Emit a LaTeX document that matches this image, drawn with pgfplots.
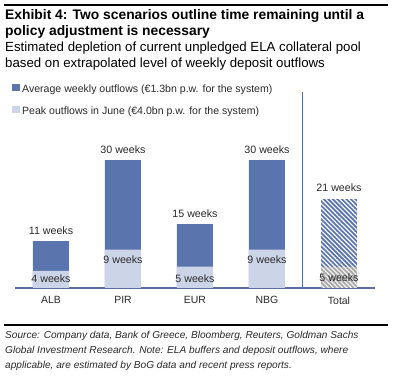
\documentclass[border=0pt]{standalone}
\usepackage{fontspec}
\setmainfont{Liberation Sans}
\usepackage{pgfplots}
\pgfplotsset{compat=1.18}
\usetikzlibrary{patterns.meta}
\definecolor{barblue}{HTML}{5A74AD}
\definecolor{barlight}{HTML}{CCD5E8}
\definecolor{axisblue}{HTML}{5670A0}
\definecolor{hatchgray}{HTML}{A8A8A8}
\definecolor{txt}{HTML}{2A2A2A}
\begin{document}
\begin{tikzpicture}[x=1bp,y=1bp]
\useasboundingbox (0,0) rectangle (396,380);
\fill[white] (0,0) rectangle (396,380);
\draw[line width=2bp] (4,375) -- (388,375);
\node[anchor=base west, inner sep=0, font=\fontsize{13.9}{16}\selectfont\bfseries] at (5,361) {Exhibit 4: Two scenarios outline time remaining until a};
\node[anchor=base west, inner sep=0, font=\fontsize{13.9}{16}\selectfont\bfseries] at (5,345) {policy adjustment is necessary};
\node[anchor=base west, inner sep=0, font=\fontsize{13.3}{15}\selectfont] at (5,329) {Estimated depletion of current unpledged ELA collateral pool};
\node[anchor=base west, inner sep=0, font=\fontsize{13.3}{15}\selectfont] at (5,313) {based on extrapolated level of weekly deposit outflows};
% legend
\fill[barblue] (12,288.5) rectangle (19.5,296);
\node[anchor=base west, inner sep=0, text=txt, font=\fontsize{10.6}{12}\selectfont] at (22,288) {Average weekly outflows (€1.3bn p.w. for the system)};
\fill[barlight] (12,266.5) rectangle (19.5,274);
\node[anchor=base west, inner sep=0, text=txt, font=\fontsize{10.6}{12}\selectfont] at (22,266) {Peak outflows in June (€4.0bn p.w. for the system)};
\begin{axis}[
  at={(15bp,92bp)}, anchor=south west,
  width=360bp, height=196bp, scale only axis,
  xmin=-0.5, xmax=4.5, ymin=0, ymax=46,
  axis x line*=bottom, axis y line=none,
  x axis line style={draw=axisblue, line width=1.5bp},
  xtick={0,1,2,3,4}, xticklabels={ALB,PIR,EUR,NBG,Total},
  major tick length=0pt, ytick=\empty,
  xticklabel style={font=\fontsize{10.5}{12}\selectfont, text=txt, yshift=-5bp},
  ybar, bar width=0.5, bar shift=0pt,
  clip=false,
]
\addplot[fill=barblue, draw=none] coordinates {(0,11) (1,30) (2,15) (3,30)};
\addplot[fill=barlight, draw=none] coordinates {(0,4) (1,9) (2,5) (3,9)};
\addplot[fill=barblue, draw=none, postaction={pattern={Lines[angle=-45,distance=3.2bp,line width=1.2bp]}, pattern color=white}] coordinates {(4,21)};
\addplot[fill=hatchgray, draw=none, postaction={pattern={Lines[angle=-45,distance=3.2bp,line width=1.2bp]}, pattern color=white!90!gray}] coordinates {(4,5)};
\draw[axisblue, line width=1bp] (axis cs:3.5,0) -- (axis cs:3.5,46);
\begin{scope}[every node/.style={anchor=base, inner sep=0, text=txt, font=\fontsize{10.7}{12}\selectfont}]
\node[yshift=7bp] at (axis cs:0,11) {11 weeks};
\node[yshift=7bp] at (axis cs:1,30) {30 weeks};
\node[yshift=7bp] at (axis cs:2,15) {15 weeks};
\node[yshift=7bp] at (axis cs:3,30) {30 weeks};
\node[yshift=7bp] at (axis cs:4,21) {21 weeks};
\node at (axis cs:0,1.4) {4 weeks};
\node at (axis cs:1,5.85) {9 weeks};
\node at (axis cs:2,1.4) {5 weeks};
\node at (axis cs:3,5.85) {9 weeks};
\node at (axis cs:4,1.6) {5 weeks};
\end{scope}
\end{axis}
\draw[line width=2bp] (4,55) -- (388,55);
\begin{scope}[every node/.style={anchor=base west, inner sep=0, text=txt, font=\fontsize{10.15}{12}\selectfont\itshape}]
\node at (5,42) {Source: Company data, Bank of Greece, Bloomberg, Reuters, Goldman Sachs};
\node at (5,27) {Global Investment Research. Note: ELA buffers and deposit outflows, where};
\node at (5,12) {applicable, are estimated by BoG data and recent press reports.};
\end{scope}
\end{tikzpicture}
\end{document}
